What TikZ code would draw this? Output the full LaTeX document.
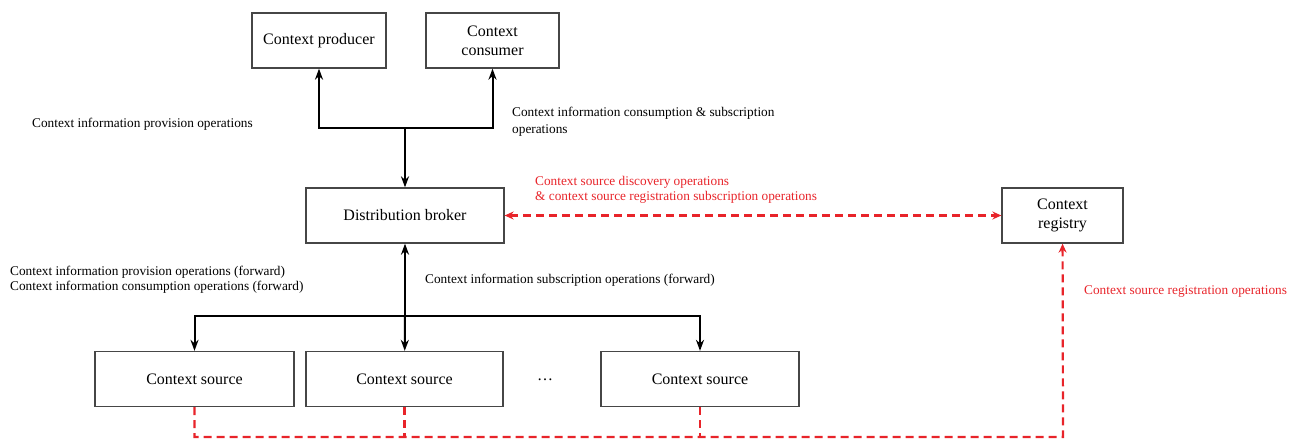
\documentclass[tikz,border=0pt]{standalone}
\usepackage{fontspec}
\setmainfont{Liberation Serif}
\usetikzlibrary{arrows.meta}
\definecolor{opred}{RGB}{232,36,42}
\definecolor{boxline}{RGB}{70,70,70}
\begin{document}
\begin{tikzpicture}[x=1pt,y=-1pt,
  box/.style={draw=boxline,line width=1.3pt,minimum height=55pt,align=center,
    font=\fontsize{16}{19}\selectfont,inner sep=0pt},
  link/.style={line width=2pt,-{Stealth[length=11pt,width=8pt,inset=3.5pt]}},
  redtip/.tip={Stealth[length=9pt,width=8pt,inset=3pt]},
  reg/.style={opred,line width=2.2pt,dash pattern=on 8pt off 5pt},
  note/.style={anchor=west,inner sep=0pt,align=left,font=\fontsize{13.3}{15}\selectfont},
  rednote/.style={note,text=opred},
]
\useasboundingbox (0,0) rectangle (1297,439);

% boxes
\node[box,minimum width=134pt] (prod) at (319,40.5) {Context producer};
\node[box,minimum width=133pt] (cons) at (492.5,40.5) {Context\\consumer};
\node[box,minimum width=198pt] (broker) at (405,215.5) {Distribution broker};
\node[box,minimum width=121pt] (registry) at (1062.5,215.5) {Context\\registry};
\node[box,minimum width=199pt] (src1) at (194.5,379) {Context source};
\node[box,minimum width=197pt] (src2) at (404.5,379) {Context source};
\node[box,minimum width=198pt] (src3) at (700,379) {Context source};
\node[font=\fontsize{16}{19}\selectfont,inner sep=0pt] (dots) at (545,380) {\dots};

% junction points
\coordinate (upjoin) at (405,128);
\coordinate (lowjoin) at (405,316);
\coordinate (regcorner) at (1063,437);

% upper distribution
\draw[link] (upjoin) -| (prod);
\draw[link] (upjoin) -| (cons);
\draw[link] (upjoin) -- (broker);

% lower distribution
\draw[link] (lowjoin) -- (broker);
\draw[link] (lowjoin) -| (src1);
\draw[link] (lowjoin) -- (src2);
\draw[link] (lowjoin) -| (src3);

% registry links
\draw[reg,redtip-redtip] (broker) -- (registry);
\draw[reg,-redtip] (src1.south) |- (regcorner) -- (registry);
\draw[reg] (src2.south) -- (src2.south |- regcorner);
\draw[reg] (src3.south) -- (src3.south |- regcorner);

% labels
\node[note] (l1) at (32,124) {Context information provision operations};
\node[note,font=\fontsize{13.3}{17}\selectfont] (l2) at (512,122)
  {Context information consumption \& subscription\\operations};
\node[rednote] (l3) at (535,190)
  {Context source discovery operations\\\& context source registration subscription operations};
\node[note] (l4) at (10,280)
  {Context information provision operations (forward)\\Context information consumption operations (forward)};
\node[note] (l5) at (425,280) {Context information subscription operations (forward)};
\node[rednote] (l6) at (1084,292) {Context source registration operations};
\end{tikzpicture}
\end{document}
